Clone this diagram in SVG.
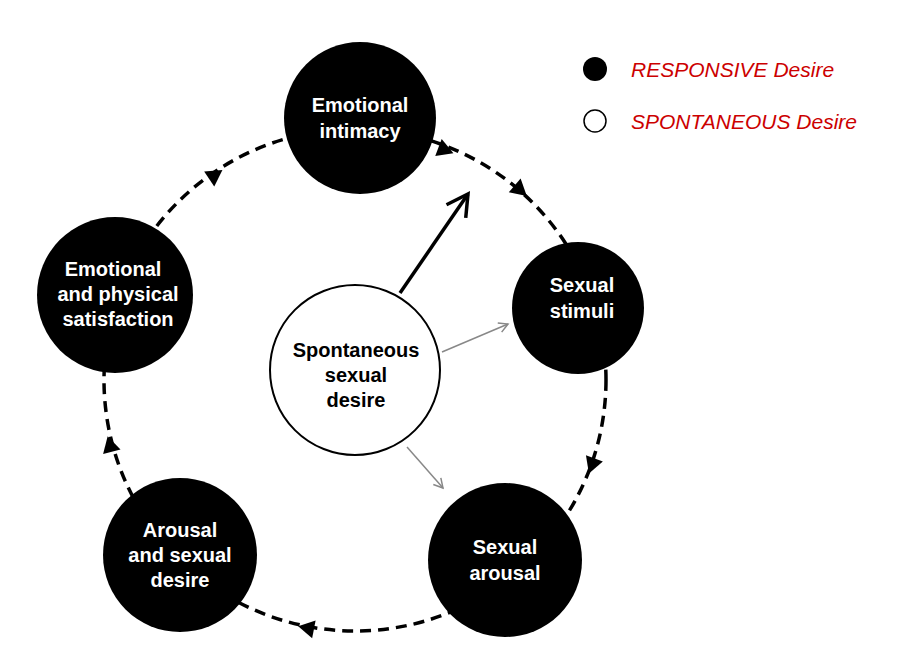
<svg xmlns="http://www.w3.org/2000/svg" width="901" height="670" viewBox="0 0 901 670">
<style>
.n{fill:#000}
.t{fill:#fff;font-family:"Liberation Sans",Arial,sans-serif;font-weight:bold;font-size:20px;text-anchor:middle}
.tc{fill:#000;font-family:"Liberation Sans",Arial,sans-serif;font-weight:bold;font-size:20px;text-anchor:middle}
.lg{fill:#c00;font-family:"Liberation Sans",Arial,sans-serif;font-style:italic;font-size:21px}
</style>
<defs>
<polygon id="tri" points="9,0 -7,-9 -7,9" fill="#000"/>
<marker id="chev" viewBox="0 0 12 12" refX="10" refY="6" markerWidth="12" markerHeight="12" markerUnits="userSpaceOnUse" orient="auto"><path d="M1,1 L10,6 L1,11" fill="none" stroke="#888" stroke-width="1.5"/></marker>
<marker id="chevb" viewBox="0 0 12 12" refX="10" refY="6" markerWidth="8" markerHeight="8" orient="auto"><path d="M1,1 L10,6 L1,11" fill="none" stroke="#000" stroke-width="1.5"/></marker>
</defs>
<rect width="901" height="670" fill="#fff"/>
<g id="connectors">
<circle cx="355" cy="380" r="251" fill="none" stroke="#000" stroke-width="3.5" stroke-dasharray="11,7"/>
<use href="#tri" transform="translate(445,150) rotate(21)"/>
<use href="#tri" transform="translate(520,190) rotate(41)"/>
<use href="#tri" transform="translate(592,465) rotate(110)"/>
<use href="#tri" transform="translate(307,628) rotate(191)"/>
<use href="#tri" transform="translate(110,445) rotate(255)"/>
<use href="#tri" transform="translate(215,175) rotate(-34)"/>
<line x1="400" y1="293" x2="468" y2="194" stroke="#000" stroke-width="3.5" marker-end="url(#chevb)"/>
<line x1="442" y1="352" x2="508" y2="324" stroke="#888" stroke-width="1.5" marker-end="url(#chev)"/>
<line x1="407" y1="447" x2="443" y2="488" stroke="#888" stroke-width="1.5" marker-end="url(#chev)"/>
</g>
<g id="emotional-intimacy"><circle class="n" cx="360" cy="118" r="76"/><text class="t" x="360" y="112">Emotional</text><text class="t" x="360" y="138">intimacy</text></g>
<g id="sexual-stimuli"><circle class="n" cx="578" cy="308" r="66"/><text class="t" x="582" y="292">Sexual</text><text class="t" x="582" y="318">stimuli</text></g>
<g id="sexual-arousal"><circle class="n" cx="505" cy="560" r="77"/><text class="t" x="505" y="554">Sexual</text><text class="t" x="505" y="580">arousal</text></g>
<g id="arousal-desire"><circle class="n" cx="180" cy="555" r="77"/><text class="t" x="180" y="537">Arousal</text><text class="t" x="180" y="562">and sexual</text><text class="t" x="180" y="587">desire</text></g>
<g id="satisfaction"><circle class="n" cx="115" cy="295" r="78"/><text class="t" x="113" y="276">Emotional</text><text class="t" x="118" y="301">and physical</text><text class="t" x="118" y="326">satisfaction</text></g>
<g id="spontaneous"><circle cx="355" cy="370" r="85" fill="#fff" stroke="#000" stroke-width="2"/><text class="tc" x="356" y="357">Spontaneous</text><text class="tc" x="356" y="382">sexual</text><text class="tc" x="356" y="407">desire</text></g>
<g id="legend">
<circle cx="595" cy="69" r="12" fill="#000"/>
<circle cx="595" cy="121" r="11" fill="#fff" stroke="#000" stroke-width="1.5"/>
<text class="lg" x="631" y="77">RESPONSIVE Desire</text>
<text class="lg" x="631" y="129">SPONTANEOUS Desire</text>
</g>
</svg>
